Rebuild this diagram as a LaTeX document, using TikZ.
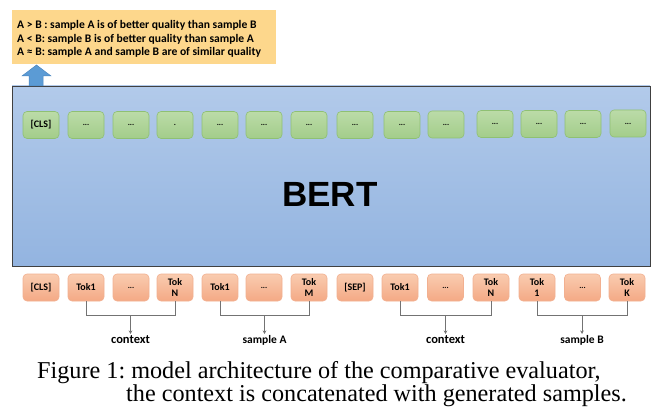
\documentclass[tikz,border=0pt]{standalone}
\usepackage{fontspec}
\setmainfont{Liberation Serif}
\newfontfamily\calib{Carlito}
\newfontfamily\arialf{Liberation Sans}
\usetikzlibrary{arrows.meta,calc}
\definecolor{goldfill}{HTML}{FDD78C}
\definecolor{bluetop}{HTML}{B2CAEA}
\definecolor{bluebot}{HTML}{93B4E0}
\definecolor{greentop}{HTML}{BBDBA8}
\definecolor{greenbot}{HTML}{A3CD8A}
\definecolor{greenline}{HTML}{8FC073}
\definecolor{orgtop}{HTML}{F9CCB0}
\definecolor{orgbot}{HTML}{F4A985}
\definecolor{orgline}{HTML}{F2B090}
\definecolor{arrowblue}{HTML}{5B9BD5}
\definecolor{arrowline}{HTML}{4A86C0}
\frenchspacing
\begin{document}
\begin{tikzpicture}[x=1pt,y=-1pt,
  gbox/.style={rounded corners=4pt,top color=greentop,bottom color=greenbot,draw=greenline,line width=0.6pt,
     minimum width=36pt,minimum height=27pt,inner sep=0pt,font=\calib\bfseries\fontsize{10}{11.5}\selectfont},
  tokbox/.style={rounded corners=4pt,top color=orgtop,bottom color=orgbot,draw=orgline,line width=0.6pt,
     minimum width=36pt,minimum height=27pt,inner sep=0pt,align=center,font=\calib\bfseries\fontsize{10}{11.5}\selectfont},
  dots/.style={font=\calib\bfseries\fontsize{8}{9}\selectfont},
  bracket/.style={draw=black!55,line width=0.7pt},
  lab/.style={font=\calib\bfseries\fontsize{11.5}{13}\selectfont,inner sep=1pt,anchor=north},
  caption/.style={font=\fontsize{24.2}{24}\selectfont,anchor=base west,inner sep=0pt}]
\useasboundingbox (0,0) rectangle (663,414);
% output box
\node[fill=goldfill,minimum width=264pt,minimum height=54pt,inner sep=0pt] (out) at (144,37) {};
\node[anchor=west,align=left,inner sep=0pt,font=\calib\bfseries\fontsize{11.6}{13.5}\selectfont] (outtxt) at (17,39)
  {A > B : sample A is of better quality than sample B\\
   A < B: sample B is of better quality than sample A\\
   A ≈ B: sample A and sample B are of similar quality};
% BERT box
\node[top color=bluetop,bottom color=bluebot,draw=black!75,line width=0.9pt,minimum width=638pt,minimum height=180pt,inner sep=0pt] (bert) at (331,176) {};
\node[font=\arialf\bfseries\fontsize{35}{40}\selectfont] (berttxt) at (330,194) {BERT};
% up arrow
\coordinate (a1) at (29,86);
\coordinate (a2) at (29,76);
\coordinate (a3) at (22,76);
\coordinate (a4) at (36.5,65);
\coordinate (a5) at (51,76);
\coordinate (a6) at (43,76);
\coordinate (a7) at (43,86);
\filldraw[fill=arrowblue,draw=arrowline,line width=0.5pt] (a1) -- (a2) -- (a3) -- (a4) -- (a5) -- (a6) -- (a7) -- cycle;
% green output tokens
\node[gbox] (g1) at (41,125) {[CLS]};
\node[gbox,dots] (g2) at (86,125) {...};
\node[gbox,dots] (g3) at (131,125) {...};
\node[gbox,dots] (g4) at (175,125) {.};
\node[gbox,dots] (g5) at (220,125) {...};
\node[gbox,dots] (g6) at (264,125) {...};
\node[gbox,dots] (g7) at (309,125) {...};
\node[gbox,dots] (g8) at (355,125) {...};
\node[gbox,dots] (g9) at (402,125) {...};
\node[gbox,dots] (g10) at (446,124.5) {...};
\node[gbox,dots] (g11) at (495,124) {...};
\node[gbox,dots] (g12) at (539,124) {...};
\node[gbox,dots] (g13) at (583,124) {...};
\node[gbox,dots] (g14) at (628,123.5) {...};
% input tokens
\node[tokbox] (t1) at (41,287.5) {[CLS]};
\node[tokbox] (t2) at (86,287.5) {Tok1};
\node[tokbox,dots] (t3) at (131,287.5) {...};
\node[tokbox] (t4) at (175,287.5) {Tok\\N};
\node[tokbox] (t5) at (220,287.5) {Tok1};
\node[tokbox,dots] (t6) at (264,287.5) {...};
\node[tokbox] (t7) at (309,287.5) {Tok\\M};
\node[tokbox] (t8) at (355,287.5) {[SEP]};
\node[tokbox] (t9) at (400,287.5) {Tok1};
\node[tokbox,dots] (t10) at (445.5,287.5) {...};
\node[tokbox] (t11) at (491,287.5) {Tok\\N};
\node[tokbox] (t12) at (537,287.5) {Tok\\1};
\node[tokbox,dots] (t13) at (582.5,287.5) {...};
\node[tokbox] (t14) at (627,287.5) {Tok\\K};
% labels
\node[lab,font=\calib\bfseries\fontsize{12.5}{14}\selectfont] (l1) at (130.5,334) {context};
\node[lab] (l2) at (264.5,334) {sample A};
\node[lab,font=\calib\bfseries\fontsize{12.5}{14}\selectfont] (l3) at (445.5,334) {context};
\node[lab] (l4) at (582,334) {sample B};
% brackets
\foreach \a/\b/\l in {t2/t4/l1,t5/t7/l2,t9/t11/l3,t12/t14/l4}{
  \draw[bracket] (\a.south) -- ++(0,14) coordinate (\a-c) -| (\b.south);
  \draw[bracket,-{Stealth[length=3.5pt,width=3.5pt]}] (\a-c -| \l.north) -- (\l.north);
}
% caption
\node[caption] (cap1) at (37,378) {Figure 1: model architecture of the comparative evaluator,};
\node[caption] (cap2) at (126,401) {the context is concatenated with generated samples.};
\end{tikzpicture}
\end{document}
